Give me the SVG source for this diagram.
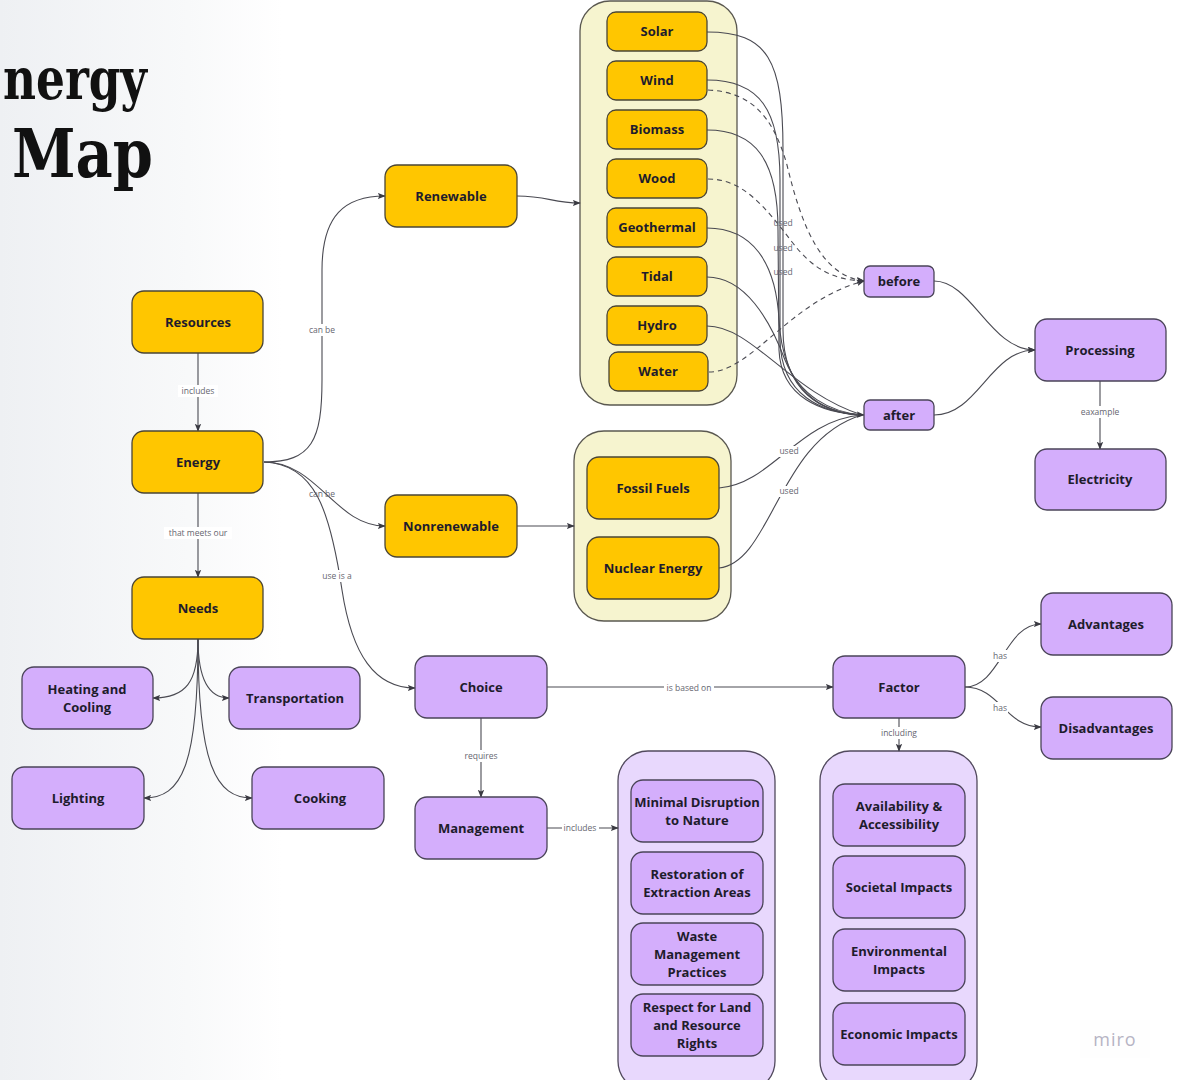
<svg xmlns="http://www.w3.org/2000/svg" width="1177" height="1080" viewBox="0 0 1177 1080">
  <defs>
    <linearGradient id="bg" x1="0" y1="0" x2="1" y2="0" gradientUnits="objectBoundingBox">
      <stop offset="0" stop-color="#eef0f3"/>
      <stop offset="0.16" stop-color="#f8f9fa"/>
      <stop offset="0.24" stop-color="#ffffff"/>
      <stop offset="1" stop-color="#ffffff"/>
    </linearGradient>
    <marker id="arr" viewBox="0 0 10 10" refX="9" refY="5" markerWidth="8" markerHeight="8" markerUnits="userSpaceOnUse" orient="auto">
      <path d="M0,1 L10,5 L0,9 L2,5 Z" fill="#3a3a42"/>
    </marker>
  </defs>
  <style>
    .y { fill: #ffc600; stroke: #4a4536; stroke-width: 1.3; }
    .p { fill: #d4aefc; stroke: #4a4458; stroke-width: 1.3; }
    .yc { fill: #f6f4cf; stroke: #5a5850; stroke-width: 1.3; }
    .pc { fill: #e8d8fd; stroke: #524a5e; stroke-width: 1.3; }
    .t { font-family: "Open Sans", "Noto Sans", sans-serif; font-weight: 700; font-size: 13px; fill: #1e1c2c; text-anchor: middle; }
    .c { fill: none; stroke: #4a4a52; stroke-width: 1.1; }
    .a { marker-end: url(#arr); }
    .d { stroke-dasharray: 5 4; }
    .l { font-family: "Open Sans", "Noto Sans", sans-serif; font-size: 8.5px; fill: #666670; text-anchor: middle; }
    .lb { fill: #ffffff; }
  </style>

  <rect x="0" y="0" width="1177" height="1080" fill="url(#bg)"/>

  <!-- title -->
  <text x="3" y="99" font-family="'DejaVu Serif', 'Liberation Serif', serif" font-weight="700" font-size="58" textLength="144" lengthAdjust="spacingAndGlyphs" fill="#111111">nergy</text>
  <text x="12" y="177" font-family="'DejaVu Serif', 'Liberation Serif', serif" font-weight="700" font-size="68" textLength="141" lengthAdjust="spacingAndGlyphs" fill="#111111">Map</text>

  <!-- containers -->
  <g id="renewable-group"><rect class="yc" x="580" y="1" width="157" height="404" rx="30"/></g>
  <g id="nonrenewable-group"><rect class="yc" x="574" y="431" width="157" height="190" rx="30"/></g>
  <g id="management-group"><rect class="pc" x="618" y="751" width="157" height="340" rx="30"/></g>
  <g id="factor-group"><rect class="pc" x="820" y="751" width="157" height="340" rx="30"/></g>

  <!-- connectors -->
  <g id="connectors">
    <path class="c a" d="M198,353 L198,431"/>
    <path class="c a" d="M198,493 L198,577"/>
    <path class="c a" d="M264,462 C312,462 322,440 322,380 L322,270 C322,215 345,196 385,196"/>
    <path class="c a" d="M264,462 C318,462 335,526 385,526"/>
    <path class="c a" d="M264,462 C315,464 330,510 342,590 C352,655 375,688 415,688"/>
    <path class="c a" d="M517,196 C548,196 552,203 580,203"/>
    <path class="c a" d="M517,526 L574,526"/>

    <!-- renewable sources used after processing -->
    <path class="c" d="M707,32 C768,32 783,60 783,150 L783,330 C783,392 822,413 862,415"/>
    <path class="c" d="M707,80 C760,80 780,110 780,180 L780,340 C781,396 822,413 862,415"/>
    <path class="c" d="M707,130 C755,130 778,160 778,230 L779,350 C781,398 822,413 862,415"/>
    <path class="c" d="M707,228 C752,228 776,262 779,320 C783,392 822,413 862,415"/>
    <path class="c" d="M707,277 C745,277 770,320 785,360 C800,396 830,412 862,415"/>
    <path class="c" d="M707,326 C752,326 790,392 862,415"/>
    <!-- renewable sources used before processing -->
    <path class="c d a" d="M708,90 C748,92 772,112 787,165 C802,228 822,276 864,281"/>
    <path class="c d a" d="M708,179 C742,179 764,205 792,242 C812,268 832,280 864,281"/>
    <path class="c d a" d="M709,372 C752,372 790,300 864,281"/>
    <!-- nonrenewable used -->
    <path class="c" d="M719,488 C772,484 798,420 862,415"/>
    <path class="c" d="M719,568 C772,562 778,440 862,415"/>
    <path class="c a" d="M850,414.5 L864,415"/>

    <path class="c a" d="M934,281 C972,281 990,350 1035,350"/>
    <path class="c a" d="M934,415 C978,415 990,350 1035,350"/>
    <path class="c a" d="M1100,381 L1100,449"/>

    <!-- needs -->
    <path class="c a" d="M198,639 C198,682 186,698 153,698"/>
    <path class="c a" d="M198,639 C198,682 210,698 229,698"/>
    <path class="c a" d="M198,639 C198,765 182,798 144,798"/>
    <path class="c a" d="M198,639 C198,765 216,798 252,798"/>

    <path class="c a" d="M547,687 L833,687"/>
    <path class="c a" d="M481,718 L481,797"/>
    <path class="c a" d="M547,828 L618,828"/>
    <path class="c a" d="M965,687 C1000,687 1005,624 1041,624"/>
    <path class="c a" d="M965,687 C1000,687 1005,727 1041,727"/>
    <path class="c a" d="M899,718 L899,751"/>

    <!-- connector labels -->
    <rect class="lb" x="178" y="385" width="40" height="12"/><text class="l" x="198" y="394">includes</text>
    <rect class="lb" x="164" y="527" width="68" height="12"/><text class="l" x="198" y="536">that meets our</text>
    <rect class="lb" x="306" y="324" width="32" height="12"/><text class="l" x="322" y="333">can be</text>
    <text class="l" x="322" y="497">can be</text>
    <rect class="lb" x="322" y="570" width="30" height="12"/><text class="l" x="337" y="579">use is a</text>
    <text class="l" x="783" y="226">used</text>
    <text class="l" x="783" y="251">used</text>
    <text class="l" x="783" y="275">used</text>
    <rect class="lb" x="778" y="446" width="22" height="11"/><text class="l" x="789" y="454">used</text>
    <rect class="lb" x="778" y="486" width="22" height="11"/><text class="l" x="789" y="494">used</text>
    <rect class="lb" x="1080" y="406" width="40" height="12"/><text class="l" x="1100" y="415">eaxample</text>
    <rect class="lb" x="664" y="682" width="50" height="12"/><text class="l" x="689" y="691">is based on</text>
    <rect class="lb" x="463" y="750" width="36" height="12"/><text class="l" x="481" y="759">requires</text>
    <rect class="lb" x="562" y="822" width="37" height="12"/><text class="l" x="580" y="831">includes</text>
    <rect class="lb" x="992" y="650" width="16" height="12"/><text class="l" x="1000" y="659">has</text>
    <rect class="lb" x="992" y="702" width="16" height="12"/><text class="l" x="1000" y="711">has</text>
    <rect class="lb" x="879" y="727" width="40" height="12"/><text class="l" x="899" y="736">including</text>
  </g>

  <!-- yellow nodes -->
  <g id="resources"><rect class="y" x="132" y="291" width="131" height="62" rx="12"/><text class="t" x="198" y="327">Resources</text></g>
  <g id="energy"><rect class="y" x="132" y="431" width="131" height="62" rx="12"/><text class="t" x="198" y="467">Energy</text></g>
  <g id="needs"><rect class="y" x="132" y="577" width="131" height="62" rx="12"/><text class="t" x="198" y="613">Needs</text></g>
  <g id="renewable"><rect class="y" x="385" y="165" width="132" height="62" rx="12"/><text class="t" x="451" y="201">Renewable</text></g>
  <g id="nonrenewable"><rect class="y" x="385" y="495" width="132" height="62" rx="12"/><text class="t" x="451" y="531">Nonrenewable</text></g>

  <g id="solar"><rect class="y" x="607" y="12" width="100" height="39" rx="9"/><text class="t" x="657" y="36">Solar</text></g>
  <g id="wind"><rect class="y" x="607" y="61" width="100" height="39" rx="9"/><text class="t" x="657" y="85">Wind</text></g>
  <g id="biomass"><rect class="y" x="607" y="110" width="100" height="39" rx="9"/><text class="t" x="657" y="134">Biomass</text></g>
  <g id="wood"><rect class="y" x="607" y="159" width="100" height="39" rx="9"/><text class="t" x="657" y="183">Wood</text></g>
  <g id="geothermal"><rect class="y" x="607" y="208" width="100" height="39" rx="9"/><text class="t" x="657" y="232">Geothermal</text></g>
  <g id="tidal"><rect class="y" x="607" y="257" width="100" height="39" rx="9"/><text class="t" x="657" y="281">Tidal</text></g>
  <g id="hydro"><rect class="y" x="607" y="306" width="100" height="39" rx="9"/><text class="t" x="657" y="330">Hydro</text></g>
  <g id="water"><rect class="y" x="609" y="352" width="99" height="39" rx="9"/><text class="t" x="658" y="376">Water</text></g>

  <g id="fossil-fuels"><rect class="y" x="587" y="457" width="132" height="62" rx="12"/><text class="t" x="653" y="493">Fossil Fuels</text></g>
  <g id="nuclear-energy"><rect class="y" x="587" y="537" width="132" height="62" rx="12"/><text class="t" x="653" y="573">Nuclear Energy</text></g>

  <!-- purple nodes -->
  <g id="before"><rect class="p" x="864" y="266" width="70" height="31" rx="6"/><text class="t" x="899" y="286">before</text></g>
  <g id="after"><rect class="p" x="864" y="400" width="70" height="30" rx="6"/><text class="t" x="899" y="420">after</text></g>
  <g id="processing"><rect class="p" x="1035" y="319" width="131" height="62" rx="12"/><text class="t" x="1100" y="355">Processing</text></g>
  <g id="electricity"><rect class="p" x="1035" y="449" width="131" height="61" rx="12"/><text class="t" x="1100" y="484">Electricity</text></g>

  <g id="heating-cooling"><rect class="p" x="22" y="667" width="131" height="62" rx="12"/><text class="t" x="87" y="694">Heating and</text><text class="t" x="87" y="712">Cooling</text></g>
  <g id="transportation"><rect class="p" x="229" y="667" width="131" height="62" rx="12"/><text class="t" x="295" y="703">Transportation</text></g>
  <g id="lighting"><rect class="p" x="12" y="767" width="132" height="62" rx="12"/><text class="t" x="78" y="803">Lighting</text></g>
  <g id="cooking"><rect class="p" x="252" y="767" width="132" height="62" rx="12"/><text class="t" x="320" y="803">Cooking</text></g>

  <g id="choice"><rect class="p" x="415" y="656" width="132" height="62" rx="12"/><text class="t" x="481" y="692">Choice</text></g>
  <g id="management"><rect class="p" x="415" y="797" width="132" height="62" rx="12"/><text class="t" x="481" y="833">Management</text></g>
  <g id="factor"><rect class="p" x="833" y="656" width="132" height="62" rx="12"/><text class="t" x="899" y="692">Factor</text></g>
  <g id="advantages"><rect class="p" x="1041" y="593" width="131" height="62" rx="12"/><text class="t" x="1106" y="629">Advantages</text></g>
  <g id="disadvantages"><rect class="p" x="1041" y="697" width="131" height="62" rx="12"/><text class="t" x="1106" y="733">Disadvantages</text></g>

  <g id="minimal-disruption"><rect class="p" x="631" y="780" width="132" height="62" rx="12"/><text class="t" x="697" y="807">Minimal Disruption</text><text class="t" x="697" y="825">to Nature</text></g>
  <g id="restoration"><rect class="p" x="631" y="852" width="132" height="62" rx="12"/><text class="t" x="697" y="879">Restoration of</text><text class="t" x="697" y="897">Extraction Areas</text></g>
  <g id="waste-management"><rect class="p" x="631" y="923" width="132" height="62" rx="12"/><text class="t" x="697" y="941">Waste</text><text class="t" x="697" y="959">Management</text><text class="t" x="697" y="977">Practices</text></g>
  <g id="respect-rights"><rect class="p" x="631" y="994" width="132" height="62" rx="12"/><text class="t" x="697" y="1012">Respect for Land</text><text class="t" x="697" y="1030">and Resource</text><text class="t" x="697" y="1048">Rights</text></g>

  <g id="availability"><rect class="p" x="833" y="784" width="132" height="62" rx="12"/><text class="t" x="899" y="811">Availability &amp;</text><text class="t" x="899" y="829">Accessibility</text></g>
  <g id="societal"><rect class="p" x="833" y="856" width="132" height="62" rx="12"/><text class="t" x="899" y="892">Societal Impacts</text></g>
  <g id="environmental"><rect class="p" x="833" y="929" width="132" height="62" rx="12"/><text class="t" x="899" y="956">Environmental</text><text class="t" x="899" y="974">Impacts</text></g>
  <g id="economic"><rect class="p" x="833" y="1003" width="132" height="62" rx="12"/><text class="t" x="899" y="1039">Economic Impacts</text></g>

  <!-- watermark -->
  <rect x="1080" y="1020" width="70" height="38" fill="#fefefe"/>
  <text x="1115" y="1046" font-family="'Open Sans', sans-serif" font-size="18" fill="#b6b4c4" text-anchor="middle" letter-spacing="1">miro</text>
</svg>
